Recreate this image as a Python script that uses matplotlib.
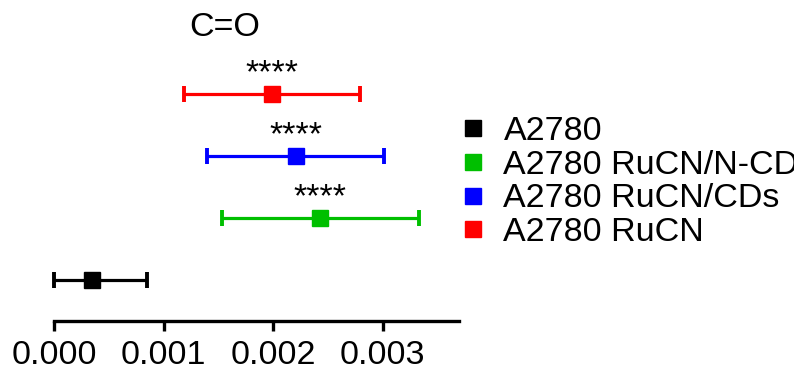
import matplotlib
matplotlib.use("Agg")
import matplotlib.pyplot as plt
from matplotlib.lines import Line2D

plt.rcParams['font.family'] = ['Liberation Sans', 'DejaVu Sans']

# groups from bottom to top
groups = ["A2780", "A2780 RuCN/N-CD", "A2780 RuCN/CDs", "A2780 RuCN"]
colors = ["#000000", "#00BF00", "#0000FF", "#FF0000"]
means = [0.00035, 0.00243, 0.00221, 0.00199]
err_low = [0.00035, 0.00090, 0.00081, 0.00080]
err_high = [0.00050, 0.00090, 0.00080, 0.00080]
stars = ["", "****", "****", "****"]

fig = plt.figure(figsize=(7.94, 3.69), dpi=100)
ax = fig.add_axes([54 / 794, 48 / 369, (459.3 - 54) / 794, (321 - 57.2) / 369])

for i, (m, lo, hi, c) in enumerate(zip(means, err_low, err_high, colors)):
    ax.errorbar(m, i, xerr=[[lo], [hi]], fmt='s', color=c, ecolor=c,
                markersize=12, elinewidth=2.3, capsize=6, capthick=2.8,
                clip_on=False)
    if stars[i]:
        ax.text(m, i + 0.33, stars[i], ha='center', va='center', fontsize=24.5)

ax.set_xlim(0, 0.0037)
ax.set_ylim(-0.662, 3.6)
ax.set_xticks([0.000, 0.001, 0.002, 0.003])
ax.set_xticklabels(["0.000", "0.001", "0.002", "0.003"])
ax.set_yticks([])
for s in ['top', 'right', 'left']:
    ax.spines[s].set_visible(False)
ax.spines['bottom'].set_linewidth(2.4)
ax.tick_params(axis='x', length=7.5, width=2.4, labelsize=24.5, pad=6)

fig.text(225 / 794, 1 - 28 / 369, "C=O", ha='center', va='center', fontsize=24.5)

handles = [Line2D([], [], marker='s', linestyle='none', color=c, markersize=12)
           for c in colors]
fig.legend(handles, groups, loc='upper left',
           bbox_to_anchor=(456.5 / 794, 1 - 116 / 369),
           frameon=False, fontsize=24.5, handlelength=0.95, handletextpad=0.43,
           labelspacing=0.08, borderpad=0, borderaxespad=0)

fig.savefig("out.png", dpi=100)
